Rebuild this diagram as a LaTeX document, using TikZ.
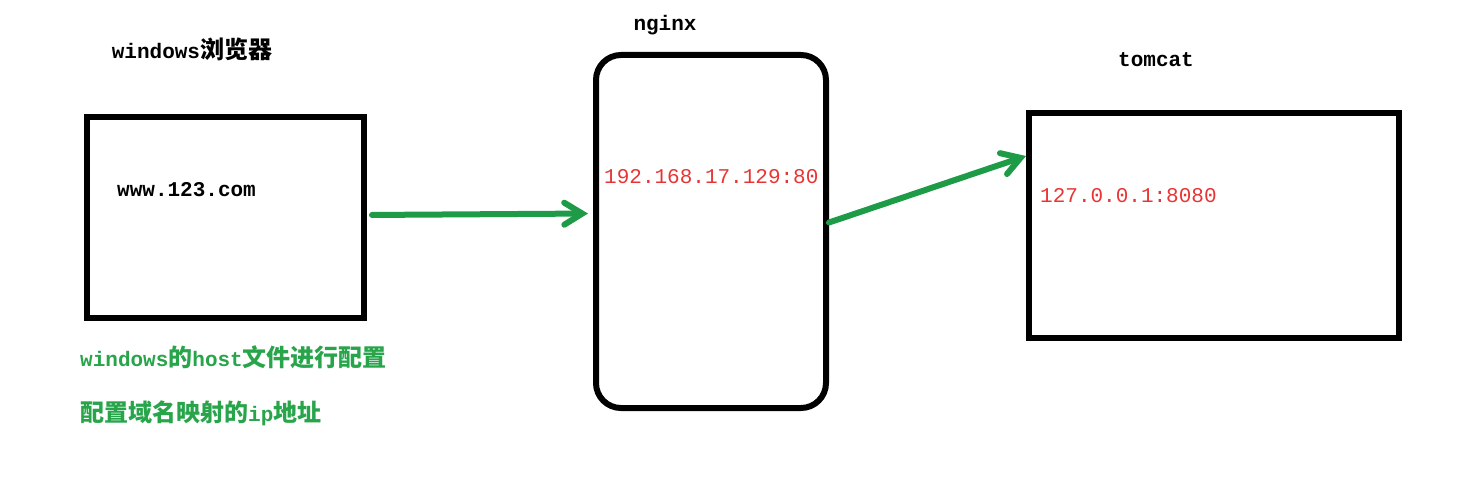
\documentclass[tikz,border=0pt]{standalone}
\usepackage{fontspec}
\usepackage{tikz}
\usetikzlibrary{arrows.meta}
\setmonofont{Liberation Mono}
\newfontfamily\cjk[Scale=1.143]{Noto Sans CJK SC}
\definecolor{flowgreen}{RGB}{30,155,70}
\definecolor{textgreen}{RGB}{40,165,75}
\definecolor{ipred}{RGB}{232,52,52}

\begin{document}
\begin{tikzpicture}[
        x=1pt, y=-1pt,
        box/.style={draw, line width=6pt, minimum width=#1},
        title/.style={anchor=center, font=\fontsize{21}{24}\selectfont\ttfamily\bfseries},
        addr/.style={anchor=west, text=ipred, font=\fontsize{21}{24}\selectfont\ttfamily},
        note/.style={anchor=west, text=textgreen, font=\fontsize{21}{24}\selectfont\ttfamily\bfseries},
        flow/.style={draw=flowgreen, line width=6pt, line cap=round,
            -{Straight Barb[length=18pt, width=22pt, line cap=round]}},
    ]
    \useasboundingbox (0,0) rectangle (1478,484);
    \node[box=277pt, minimum height=201pt] (browser) at (225.5,217.5) {};
    \node[box=230pt, minimum height=353pt, rounded corners=25pt] (nginx) at (711,231.5) {};
    \node[box=370pt, minimum height=225pt] (tomcat) at (1214,225.5) {};
    \node[title] (browsertitle) at (192,49) {windows{\cjk 浏览器}};
    \node[title] (nginxtitle) at (665,25) {nginx};
    \node[title] (tomcattitle) at (1156,60) {tomcat};
    \node[title, anchor=west, inner sep=0pt] (domain) at (117,190) {www.123.com};
    \node[addr, inner sep=0pt] (nginxip) at (604,177) {192.168.17.129:80};
    \node[addr, inner sep=0pt] (tomcatip) at (1040,196) {127.0.0.1:8080};
    \node[note, inner sep=0pt] (hostnote) at (80,357) {windows{\cjk 的}host{\cjk 文件进行配置}};
    \node[note, inner sep=0pt] (mapnote) at (80,413) {{\cjk 配置域名映射的}ip{\cjk 地址}};
    \draw[flow, shorten <=5pt, shorten >=5pt] ([yshift=2.5pt]browser.east) -- ([yshift=18pt]nginx.west);
    \draw[flow] ([yshift=9pt]nginx.east) -- ([yshift=69.5pt]tomcat.west);
\end{tikzpicture}
\end{document}
